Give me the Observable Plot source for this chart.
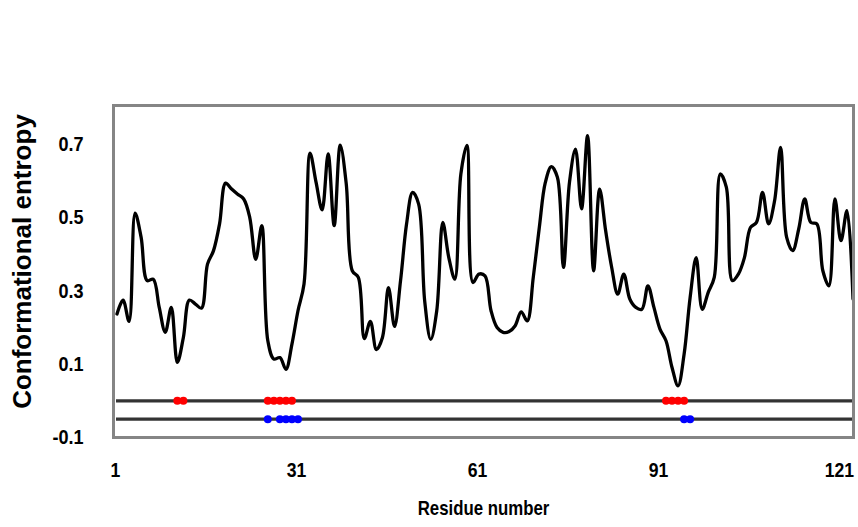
<!DOCTYPE html>
<html>
<head>
<meta charset="utf-8">
<script src="https://cdn.jsdelivr.net/npm/d3@7"></script>
<script src="https://cdn.jsdelivr.net/npm/@observablehq/plot@0.6"></script>
<style>
  html, body { margin: 0; padding: 0; background: #fff; }
  #chart svg { display: block; }
</style>
</head>
<body>
<div id="chart"></div>
<script>
// Conformational entropy per residue
const entropy = [
  0.237, 0.275, 0.217, 0.512, 0.446, 0.328, 0.332, 0.255, 0.187, 0.255,
  0.105, 0.173, 0.275, 0.264, 0.253, 0.373, 0.410, 0.483, 0.594, 0.578,
  0.564, 0.551, 0.501, 0.386, 0.478, 0.164, 0.114, 0.118, 0.086, 0.155,
  0.246, 0.319, 0.676, 0.596, 0.521, 0.674, 0.478, 0.698, 0.592, 0.355,
  0.337, 0.170, 0.217, 0.140, 0.173, 0.309, 0.203, 0.328, 0.483, 0.569,
  0.537, 0.273, 0.168, 0.246, 0.487, 0.391, 0.332, 0.619, 0.697, 0.323,
  0.346, 0.341, 0.246, 0.200, 0.187, 0.189, 0.205, 0.243, 0.218, 0.337,
  0.473, 0.596, 0.639, 0.610, 0.364, 0.596, 0.687, 0.524, 0.724, 0.355,
  0.578, 0.464, 0.364, 0.291, 0.346, 0.278, 0.255, 0.250, 0.314, 0.255,
  0.196, 0.164, 0.091, 0.041, 0.127, 0.282, 0.391, 0.250, 0.296, 0.337,
  0.619, 0.583, 0.328, 0.346, 0.391, 0.473, 0.487, 0.569, 0.483, 0.546,
  0.692, 0.446, 0.410, 0.469, 0.551, 0.487, 0.483, 0.355, 0.314, 0.551,
  0.437, 0.519, 0.278
];
const residues = entropy.map((_, i) => i + 1);

// Marked residues on the two tracks
const redResidues = [11, 12, 26, 27, 28, 29, 30, 92, 93, 94, 95];
const redLevel = 0;
const blueResidues = [26, 28, 29, 30, 31, 95, 96];
const blueLevel = -0.05;
const trackLevels = [0, -0.05];

// Axes
const xTickValues = [1, 31, 61, 91, 121];
const yTickValues = [-0.1, 0.1, 0.3, 0.5, 0.7];
const xLabel = "Residue number";
const yLabel = "Conformational entropy";

const lineData = residues.map((r, i) => ({residue: r, entropy: entropy[i]}));
const redData = redResidues.map(r => ({residue: r, level: redLevel}));
const blueData = blueResidues.map(r => ({residue: r, level: blueLevel}));

const chart = Plot.plot({
  width: 858,
  height: 527,
  marginLeft: 113,
  marginRight: 5,
  marginTop: 105,
  marginBottom: 90,
  style: {fontFamily: "'Liberation Sans', Arial, sans-serif", background: "#fff", color: "#000"},
  x: {domain: [0.42, 123.08], label: null},
  y: {domain: [-0.1, 0.806], label: null},
  marks: [
    Plot.ruleY(trackLevels, {stroke: "#333333", strokeWidth: 3.3, insetLeft: 3}),
    Plot.line(lineData, {x: "residue", y: "entropy", curve: "catmull-rom", stroke: "#000", strokeWidth: 3.3}),
    Plot.dot(redData, {x: "residue", y: "level", r: 4, fill: "#ff0000", stroke: "none"}),
    Plot.dot(blueData, {x: "residue", y: "level", r: 4, fill: "#0000ff", stroke: "none"}),
    Plot.frame({stroke: "#858585", strokeWidth: 3}),
    Plot.axisX(xTickValues, {tickSize: 0, tickPadding: 25, dx: -1.5, fontSize: 20, fontWeight: "bold", label: null}),
    Plot.axisY(yTickValues, {tickSize: 0, tickPadding: 30, fontSize: 21, fontWeight: "bold", label: null, tickFormat: d => d.toFixed(1)}),
    Plot.text([xLabel], {frameAnchor: "bottom", dy: 77, fontSize: 21, fontWeight: "bold", fill: "#000"}),
    Plot.text([yLabel], {frameAnchor: "left", textAnchor: "middle", dx: -91, dy: -10, rotate: -90, fontSize: 26, fontWeight: "bold", fill: "#000"})
  ]
});
document.getElementById("chart").append(chart);

// The reference uses a narrow face: condense horizontal texts to match
function condense(selector, factor, onlyText) {
  chart.querySelectorAll(selector).forEach(t => {
    if (onlyText && t.textContent !== onlyText) return;
    const w = t.getComputedTextLength();
    if (w > 0) {
      t.setAttribute("textLength", (w * factor).toFixed(2));
      t.setAttribute("lengthAdjust", "spacingAndGlyphs");
    }
  });
}
condense('[aria-label="x-axis tick label"] text', 0.88);
condense('[aria-label="y-axis tick label"] text', 0.86);
condense('[aria-label="text"] text', 0.8, xLabel);
</script>
</body>
</html>
